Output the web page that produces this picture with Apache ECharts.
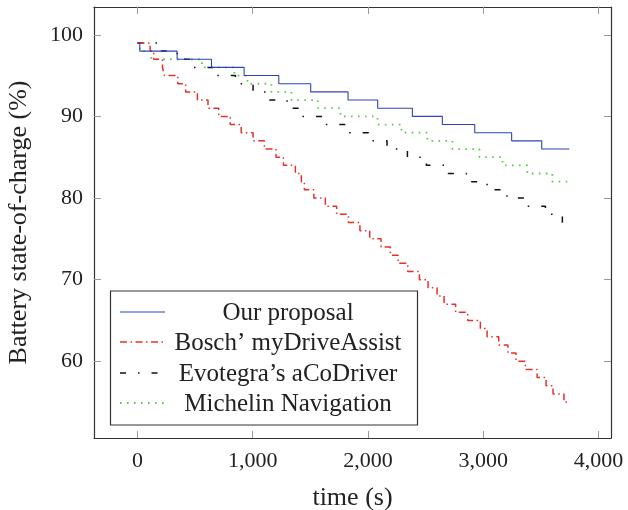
<!DOCTYPE html>
<html>
<head>
<meta charset="utf-8">
<script src="https://cdn.jsdelivr.net/npm/echarts@6/dist/echarts.min.js"></script>
<style>
  html, body { margin: 0; padding: 0; background: #fff; }
  #chart { width: 628px; height: 510px; }
</style>
</head>
<body>
<div id="chart"></div>
<script>
// Battery state-of-charge over time for four navigation approaches (step traces)
const ourTime  = [0, 20, 344, 642, 925, 1226, 1503, 1827, 2084, 2385, 2645, 2926, 3246, 3507, 3747];
const ourSoc   = [99, 98, 97, 96, 95, 94, 93, 92, 91, 90, 89, 88, 87, 86, 86];

const boschTime = [0, 110, 141, 217, 234, 350, 418, 520, 612, 705, 805, 900, 1003, 1101, 1202, 1266, 1370, 1422, 1448, 1530, 1630, 1728, 1830, 1930, 2015, 2113, 2194, 2261, 2345, 2446, 2521, 2599, 2660, 2760, 2865, 2975, 3033, 3134, 3214, 3284, 3365, 3467, 3545, 3605, 3700, 3747];
const boschSoc  = [99, 98, 97, 96, 95, 94, 93, 92, 91, 90, 89, 88, 87, 86, 85, 84, 83, 82, 81, 80, 79, 78, 77, 76, 75, 74, 73, 72, 71, 70, 69, 68, 67, 66, 65, 64, 63, 62, 61, 60, 59, 58, 57, 56, 55, 55];

const evoTime = [0, 182, 344, 468, 676, 850, 1003, 1145, 1298, 1437, 1602, 1827, 2005, 2165, 2342, 2506, 2697, 2853, 3033, 3206, 3362, 3539, 3686, 3747];
const evoSoc  = [99, 98, 97, 96, 95, 94, 93, 92, 91, 90, 89, 88, 87, 86, 85, 84, 83, 82, 81, 80, 79, 78, 77, 77];

const michTime = [0, 20, 120, 560, 841, 954, 1162, 1336, 1565, 1761, 2082, 2290, 2515, 2732, 2966, 3166, 3382, 3599, 3747];
const michSoc  = [99, 98, 97, 96, 95, 94, 93, 92, 91, 90, 89, 88, 87, 86, 85, 84, 83, 82, 82];

const seriesNames = ['Our proposal', 'Bosch\u2019 myDriveAssist', 'Evotegra\u2019s aCoDriver', 'Michelin Navigation'];
const xTicks = [0, 1000, 2000, 3000, 4000];
const yTicks = [60, 70, 80, 90, 100];

const FONT = "'Liberation Serif', 'DejaVu Serif', serif";
const pair = (ts, vs) => ts.map((t, i) => [t, vs[i]]);

const styles = [
  { color: '#2f45b4', width: 1.1, dash: 'solid' },
  { color: '#e8302a', width: 1.5, dash: [7, 3.5, 1.5, 3.5] },
  { color: '#111111', width: 1.5, dash: [6, 12, 1.5, 12] },
  { color: '#55cc44', width: 1.8, dash: [1.6, 5.4] }
];
const datasets = [pair(ourTime, ourSoc), pair(boschTime, boschSoc), pair(evoTime, evoSoc), pair(michTime, michSoc)];

const chart = echarts.init(document.getElementById('chart'));

const frameLine = { show: true, onZero: false, lineStyle: { color: '#333', width: 1.2 } };
const tickStyle = { lineStyle: { color: '#9a9a9a', width: 1 } };
const X_MIN = -377, X_MAX = 4108, Y_MIN = 50.6, Y_MAX = 103.4;

// Legend drawn as graphic so that entry text can be centred
const legendRows = [312, 342, 373, 403];
const legendGraphics = [
  { type: 'rect', shape: { x: 110.5, y: 291, width: 307, height: 134 },
    style: { fill: '#fff', stroke: '#333', lineWidth: 1.2 }, z: 100 }
];
seriesNames.forEach((name, i) => {
  const s = styles[i];
  legendGraphics.push({
    type: 'line', shape: { x1: 120, y1: legendRows[i], x2: 165, y2: legendRows[i] },
    style: { stroke: s.color, lineWidth: s.width, lineDash: s.dash === 'solid' ? null : s.dash }, z: 101
  });
  legendGraphics.push({
    type: 'text', x: 288, y: legendRows[i] + 1,
    style: { text: name, font: '25px ' + FONT, fill: '#222', align: 'center', verticalAlign: 'middle' }, z: 101
  });
});

chart.setOption({
  animation: false,
  grid: { left: 94, right: 17, top: 7, bottom: 72, outerBoundsMode: 'none', containLabel: false },
  xAxis: [
    { type: 'value', min: X_MIN, max: X_MAX, position: 'bottom',
      name: 'time (s)', nameLocation: 'middle', nameGap: 47,
      nameTextStyle: { fontFamily: FONT, fontSize: 26, color: '#222' },
      axisLine: frameLine, splitLine: { show: false },
      axisTick: Object.assign({ inside: true, length: 7, customValues: xTicks }, tickStyle),
      axisLabel: { customValues: xTicks, fontFamily: FONT, fontSize: 22, color: '#222', margin: 12,
                   formatter: v => v.toLocaleString('en-US') } },
    { type: 'value', min: X_MIN, max: X_MAX, position: 'top',
      axisLine: frameLine, splitLine: { show: false },
      axisTick: Object.assign({ inside: true, length: 7, customValues: xTicks }, tickStyle),
      axisLabel: { show: false } }
  ],
  yAxis: [
    { type: 'value', min: Y_MIN, max: Y_MAX, position: 'left',
      name: 'Battery state-of-charge (%)', nameLocation: 'middle', nameGap: 62, nameRotate: 90,
      nameTextStyle: { fontFamily: FONT, fontSize: 26, color: '#222' },
      axisLine: frameLine, splitLine: { show: false },
      axisTick: Object.assign({ inside: true, length: 7, customValues: yTicks }, tickStyle),
      axisLabel: { customValues: yTicks, fontFamily: FONT, fontSize: 22, color: '#222', margin: 11 } },
    { type: 'value', min: Y_MIN, max: Y_MAX, position: 'right',
      axisLine: frameLine, splitLine: { show: false },
      axisTick: Object.assign({ inside: true, length: 7, customValues: yTicks }, tickStyle),
      axisLabel: { show: false } }
  ],
  series: seriesNames.map((name, i) => ({
    name, type: 'line', step: 'end', data: datasets[i],
    showSymbol: false, symbol: 'none', silent: true,
    lineStyle: { color: styles[i].color, width: styles[i].width, type: styles[i].dash },
    z: 10 - i
  })),
  graphic: legendGraphics
});
</script>
</body>
</html>
